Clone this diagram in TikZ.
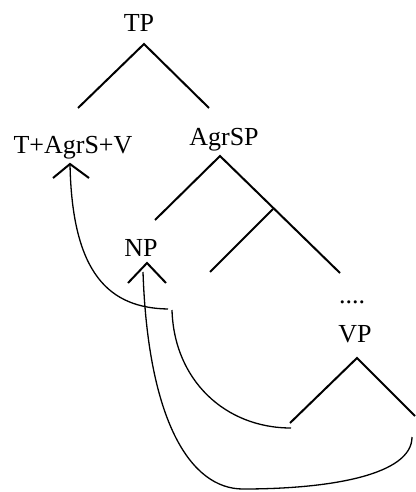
\documentclass[tikz,border=0pt]{standalone}
\usepackage{fontspec}
\setmainfont{Liberation Serif}
\tikzset{
  branch/.style={line width=2pt},
  movecurve/.style={line width=1.3pt},
  catnode/.style={anchor=base, inner sep=0pt, font=\fontsize{26}{28}\selectfont}
}
% apex, left dx, left dy, right dx, right dy
\newcommand{\fork}[5]{%
  \draw[branch] (#1) ++(-#2, #3) -- (#1) -- ++(#4, #5);%
}

\begin{document}
\begin{tikzpicture}[x=1pt, y=-1pt, >=stealth]
  \useasboundingbox (0,0) rectangle (415,492);

  % categories
  \node[catnode] (tp) at (139,32) {TP};
  \node[catnode] (tagr) at (73,153) {T+AgrS+V};
  \node[catnode] (agrsp) at (224,145) {AgrSP};
  \node[catnode] (np) at (141,256) {NP};
  \node[catnode] (dots) at (352,303) {....};
  \node[catnode] (vp) at (355,342) {VP};

  % branch points
  \coordinate (tp-top) at (144,44);
  \coordinate (agrsp-top) at (220,156);
  \coordinate (bar-top) at (273,209);
  \coordinate (vp-top) at (357,358);
  \coordinate (v-up) at (70,164);
  \coordinate (np-up) at (147,263);

  % tree
  \fork{tp-top}{66}{64}{65}{64}
  \fork{agrsp-top}{65}{64}{120}{117}
  \draw[branch] (bar-top) -- ++(-63,63);
  \fork{vp-top}{67}{65}{58}{58}

  % landing sites
  \fork{v-up}{17}{14}{19}{14}
  \fork{np-up}{19}{20}{19}{20}

  % movement paths
  \coordinate (v-mid-a) at (168,309);
  \coordinate (v-mid-b) at (172,310);
  \coordinate (v-trace) at (291,428);
  \coordinate (np-tail) at (143,272);
  \coordinate (np-low) at (243,489);
  \coordinate (np-trace) at (412,437);

  \draw[movecurve] (v-up) .. controls (72,275) and (110,308) .. (v-mid-a);
  \draw[movecurve] (v-mid-b) .. controls (174,380) and (225,428) .. (v-trace);
  \draw[movecurve] (np-tail) .. controls (148,420) and (190,489) .. (np-low)
    .. controls (330,489) and (412,475) .. (np-trace);
\end{tikzpicture}
\end{document}
